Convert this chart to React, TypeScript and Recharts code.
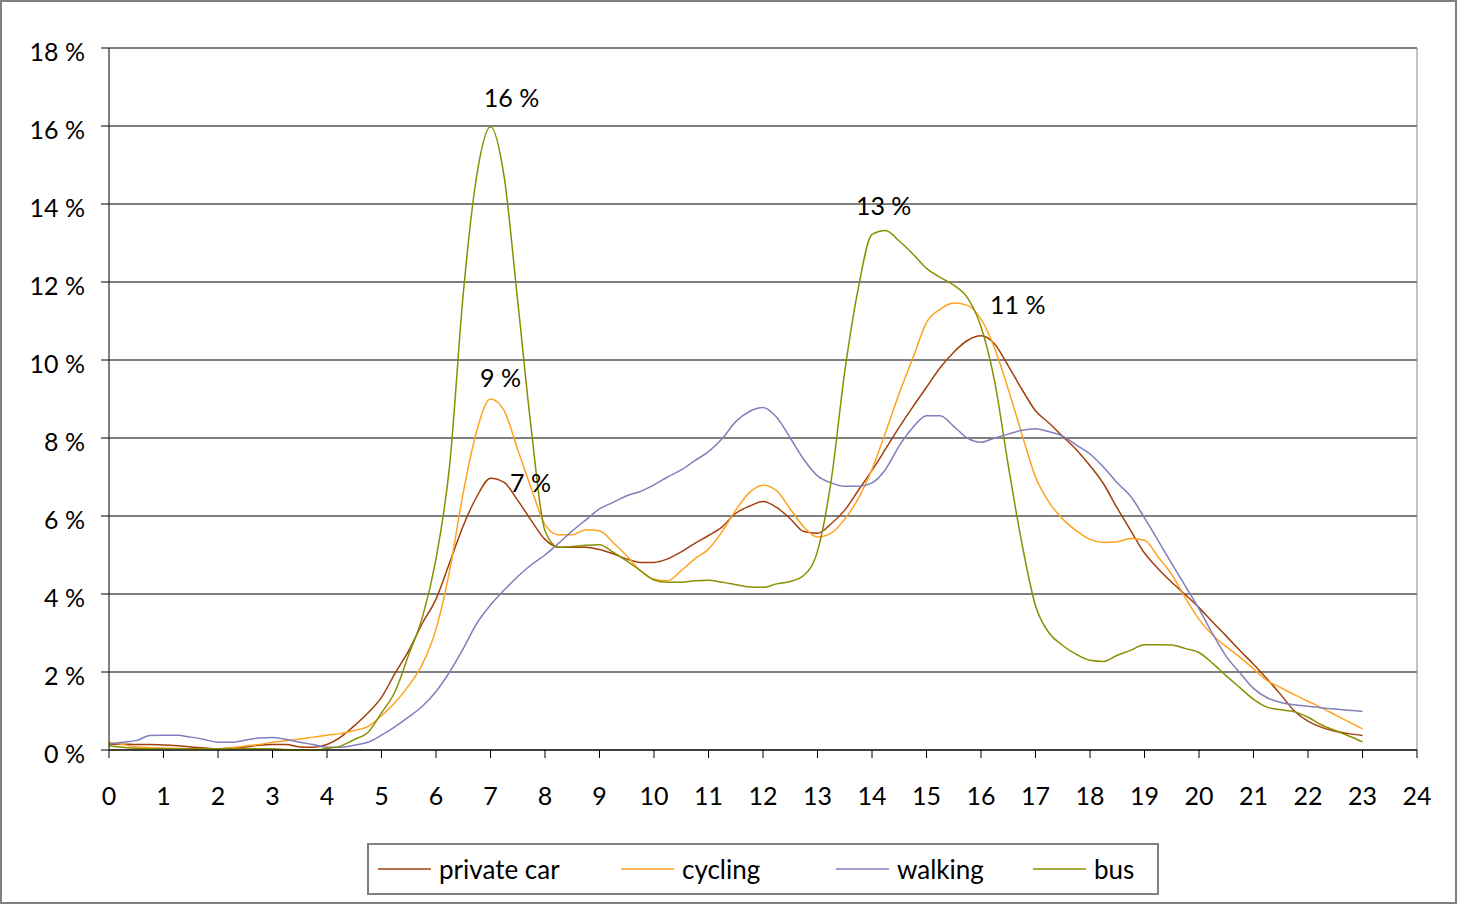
import { CartesianGrid, LabelList, Legend, Line, LineChart, ReferenceLine, XAxis, YAxis } from "recharts";

const hours = [
  0, 0.25, 0.5, 0.75, 1, 1.25, 1.5, 1.75, 2, 2.25, 2.5, 2.75, 3, 3.25, 3.5, 3.75,
  4, 4.25, 4.5, 4.75, 5, 5.25, 5.5, 5.75, 6, 6.25, 6.5, 6.75, 7, 7.25, 7.5, 7.75,
  8, 8.25, 8.5, 8.75, 9, 9.25, 9.5, 9.75, 10, 10.25, 10.5, 10.75, 11, 11.25, 11.5, 11.75,
  12, 12.25, 12.5, 12.75, 13, 13.25, 13.5, 13.75, 14, 14.25, 14.5, 14.75, 15, 15.25, 15.5, 15.75,
  16, 16.25, 16.5, 16.75, 17, 17.25, 17.5, 17.75, 18, 18.25, 18.5, 18.75, 19, 19.25, 19.5, 19.75,
  20, 20.25, 20.5, 20.75, 21, 21.25, 21.5, 21.75, 22, 22.25, 22.5, 22.75, 23,
];

const privateCar = [
  0.15, 0.15, 0.14, 0.14, 0.13, 0.11, 0.08, 0.05, 0.03, 0.05, 0.08, 0.12, 0.14, 0.14, 0.08, 0.07,
  0.14, 0.33, 0.62, 0.95, 1.35, 1.97, 2.55, 3.25, 3.87, 4.8, 5.75, 6.5, 6.97, 6.86, 6.4, 5.88,
  5.4, 5.2, 5.2, 5.2, 5.14, 5.03, 4.9, 4.81, 4.81, 4.9, 5.08, 5.3, 5.5, 5.72, 6.07, 6.25,
  6.37, 6.22, 5.93, 5.6, 5.56, 5.8, 6.15, 6.66, 7.17, 7.72, 8.28, 8.8, 9.3, 9.8, 10.2, 10.5,
  10.62, 10.41, 9.85, 9.25, 8.7, 8.38, 8.04, 7.7, 7.29, 6.82, 6.2, 5.62, 5.05, 4.65, 4.3, 3.98,
  3.65, 3.28, 2.92, 2.55, 2.2, 1.82, 1.42, 1.0, 0.74, 0.58, 0.48, 0.42, 0.37,
];

const cycling = [
  0.2, 0.14, 0.08, 0.06, 0.05, 0.04, 0.03, 0.03, 0.03, 0.06, 0.1, 0.14, 0.2, 0.24, 0.28, 0.33,
  0.38, 0.42, 0.5, 0.6, 0.88, 1.22, 1.65, 2.2, 3.1, 4.6, 6.6, 8.2, 9.0, 8.7, 7.7, 6.7,
  5.78, 5.52, 5.52, 5.65, 5.62, 5.32, 4.98, 4.6, 4.38, 4.34, 4.6, 4.9, 5.15, 5.6, 6.15, 6.6,
  6.79, 6.65, 6.18, 5.72, 5.46, 5.56, 5.92, 6.45, 7.2, 8.15, 9.15, 10.05, 10.96, 11.3, 11.46, 11.4,
  11.05, 10.3, 9.25, 8.1, 7.0, 6.35, 5.92, 5.62, 5.4, 5.32, 5.34, 5.42, 5.38, 4.95, 4.5, 3.9,
  3.35, 2.95, 2.65, 2.38, 2.08, 1.78, 1.6, 1.42, 1.25, 1.08, 0.9, 0.72, 0.54,
];

const walking = [
  0.15, 0.2, 0.24, 0.37, 0.38, 0.38, 0.33, 0.27, 0.2, 0.2, 0.25, 0.31, 0.32, 0.27, 0.2, 0.14,
  0.07, 0.07, 0.12, 0.2, 0.38, 0.6, 0.85, 1.12, 1.5, 2.0, 2.6, 3.25, 3.72, 4.1, 4.45, 4.75,
  5.0, 5.3, 5.62, 5.9, 6.18, 6.35, 6.52, 6.63, 6.8, 7.0, 7.18, 7.42, 7.65, 7.98, 8.42, 8.68,
  8.78, 8.53, 8.0, 7.45, 7.03, 6.85, 6.76, 6.76, 6.85, 7.2, 7.8, 8.27, 8.57, 8.57, 8.3, 8.0,
  7.89, 8.0, 8.1, 8.2, 8.24, 8.16, 8.05, 7.82, 7.59, 7.25, 6.85, 6.5, 5.95, 5.37, 4.78, 4.2,
  3.62, 2.98, 2.4, 1.98, 1.58, 1.34, 1.22, 1.16, 1.12, 1.08, 1.05, 1.02, 0.99,
];

const bus = [
  0.11, 0.07, 0.04, 0.03, 0.03, 0.03, 0.03, 0.03, 0.03, 0.03, 0.03, 0.03, 0.03, 0.01, 0, 0,
  0.04, 0.1, 0.27, 0.45, 0.95, 1.5, 2.45, 3.4, 4.9, 7.3, 11.7, 14.75, 15.98, 14.7, 11.5, 8.2,
  5.62, 5.2, 5.22, 5.25, 5.26, 5.07, 4.85, 4.6, 4.36, 4.3, 4.3, 4.34, 4.35, 4.3, 4.24, 4.18,
  4.17, 4.26, 4.32, 4.48, 5.1, 6.9, 9.7, 11.85, 13.22, 13.32, 13.05, 12.72, 12.35, 12.12, 11.92, 11.6,
  10.85, 9.45, 7.3, 5.3, 3.7, 3.0, 2.68, 2.45, 2.3, 2.27, 2.43, 2.56, 2.7, 2.7, 2.69, 2.6,
  2.5, 2.22, 1.9, 1.6, 1.3, 1.1, 1.03, 0.98, 0.84, 0.64, 0.5, 0.36, 0.21,
];

const xTicks = [0, 1, 2, 3, 4, 5, 6, 7, 8, 9, 10, 11, 12, 13, 14, 15, 16, 17, 18, 19, 20, 21, 22, 23, 24];
const yTicks = [0, 2, 4, 6, 8, 10, 12, 14, 16, 18];

const seriesNames = ["private car", "cycling", "walking", "bus"];
const seriesKeys = ["car", "cycling", "walking", "bus"];

// which peaks get a value label
const peakLabels = [
  { series: "bus", hour: 7 },
  { series: "cycling", hour: 7 },
  { series: "car", hour: 7 },
  { series: "bus", hour: 14.25 },
  { series: "cycling", hour: 15.5 },
];

const data = hours.map((hour, i) => ({
  hour,
  car: privateCar[i],
  cycling: cycling[i],
  walking: walking[i],
  bus: bus[i],
}));

const colors: Record<string, string> = {
  car: "#A23F0C",
  cycling: "#FFA21F",
  walking: "#7F7FBD",
  bus: "#8A8F00",
};

const labelOffsets: Record<string, [number, number]> = {
  "bus@7": [21, -20],
  "cycling@7": [10, -12],
  "car@7": [40, 14],
  "bus@14.25": [-2, -16],
  "cycling@15.5": [64, 11],
};

const legendSlots = [243, 215, 197, 120];

const font = "Lato, 'Noto Sans', sans-serif";

function peakLabel(series: string) {
  return (props: any) => {
    const { index, value } = props;
    const hour = hours[index];
    const hit = peakLabels.find((p) => p.series === series && p.hour === hour);
    if (!hit) return null;
    const x = props.x ?? props.viewBox?.x;
    const y = props.y ?? props.viewBox?.y;
    const [dx, dy] = labelOffsets[`${series}@${hour}`] || [0, -12];
    return (
      <text x={x + dx} y={y + dy} textAnchor="middle" fill="#000" fontSize={25} fontFamily={font}>
        {`${Math.round(value)} %`}
      </text>
    );
  };
}

function renderLegend() {
  return (
    <div style={{ display: "flex", justifyContent: "center" }}>
      <div
        style={{
          boxSizing: "border-box",
          width: 792,
          height: 52,
          border: "2px solid #808080",
          display: "flex",
          alignItems: "center",
          paddingLeft: 9,
          fontFamily: font,
          fontSize: 26,
          color: "#000",
        }}
      >
        {seriesKeys.map((key, i) => (
          <div key={key} style={{ display: "flex", alignItems: "center", width: legendSlots[i] }}>
            <svg width={53} height={4} style={{ marginRight: 8 }}>
              <line x1={0} y1={2} x2={53} y2={2} stroke={colors[key]} strokeWidth={1.5} />
            </svg>
            <span>{seriesNames[i]}</span>
          </div>
        ))}
      </div>
    </div>
  );
}

export default function App() {
  return (
    <div
      style={{
        position: "absolute",
        left: 0,
        top: 0,
        width: 1457,
        height: 904,
        background: "#fff",
        fontFamily: font,
      }}
    >
      <LineChart width={1457} height={904} data={data} margin={{ top: 48, right: 40, bottom: 9, left: 0 }}>
        <CartesianGrid vertical={false} stroke="#000" strokeWidth={1} />
        <XAxis
          dataKey="hour"
          type="number"
          domain={[0, 24]}
          ticks={xTicks}
          interval={0}
          height={93}
          tickSize={8}
          tickMargin={29}
          axisLine={{ stroke: "#000" }}
          tickLine={{ stroke: "#000" }}
          tick={{ fill: "#000", fontSize: 25, fontFamily: font }}
        />
        <YAxis
          type="number"
          domain={[0, 18]}
          ticks={yTicks}
          interval={0}
          width={109}
          tickSize={8}
          tickMargin={16}
          tickFormatter={(v: number) => `${v} %`}
          axisLine={{ stroke: "#000" }}
          tickLine={{ stroke: "#000" }}
          tick={{ fill: "#000", fontSize: 25, fontFamily: font, dy: 4 }}
        />
        <ReferenceLine x={24} stroke="#888" />
        <Legend verticalAlign="bottom" align="center" layout="horizontal" wrapperStyle={{ left: 109, width: 1308 }} content={renderLegend} />
        {seriesKeys.map((key, i) => (
          <Line
            key={key}
            type="monotone"
            dataKey={key}
            name={seriesNames[i]}
            stroke={colors[key]}
            strokeWidth={1.5}
            dot={false}
            activeDot={false}
            isAnimationActive={false}
          >
            <LabelList dataKey={key} content={peakLabel(key)} />
          </Line>
        ))}
      </LineChart>
      <div
        style={{
          position: "absolute",
          inset: 0,
          border: "2px solid #808080",
          pointerEvents: "none",
        }}
      />
    </div>
  );
}
